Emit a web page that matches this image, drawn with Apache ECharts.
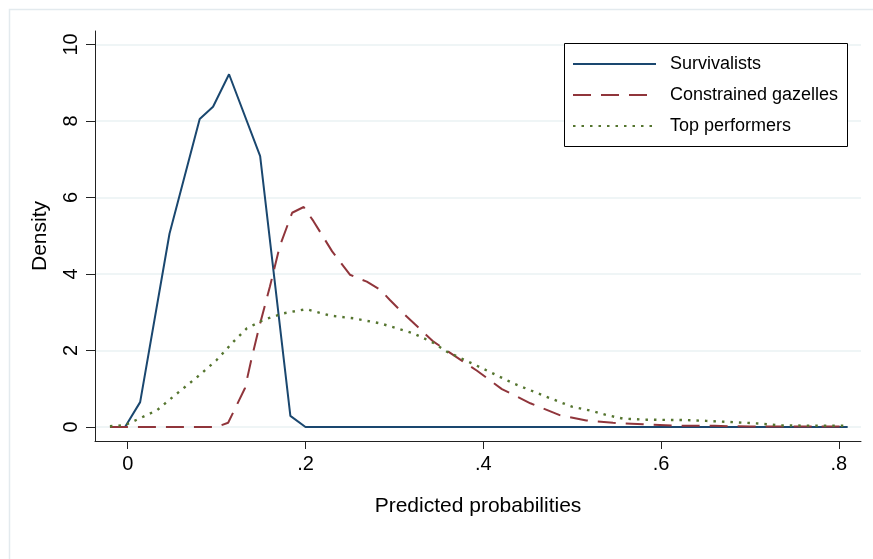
<!DOCTYPE html>
<html>
<head>
<meta charset="utf-8">
<script src="https://cdn.jsdelivr.net/npm/echarts@6/dist/echarts.min.js"></script>
<style>
  html, body { margin: 0; padding: 0; background: #fff; }
  #chart { width: 873px; height: 559px; }
</style>
</head>
<body>
<div id="chart"></div>
<script>
// series names
var seriesNames = ['Survivalists', 'Constrained gazelles', 'Top performers'];

// Survivalists density
var survX = [-0.003, 0.014, 0.047, 0.081, 0.096, 0.114, 0.149, 0.183, 0.2, 0.81];
var survY = [0, 0.65, 5.05, 8.05, 8.37, 9.22, 7.08, 0.29, 0, 0];

// Constrained gazelles density
var gazX = [-0.02, 0.1, 0.113, 0.132, 0.139, 0.148, 0.16, 0.171, 0.185, 0.198, 0.209, 0.23, 0.25, 0.261, 0.269, 0.284, 0.295, 0.306, 0.344, 0.393, 0.421, 0.453, 0.486, 0.516, 0.546, 0.58, 0.618, 0.66, 0.7, 0.81];
var gazY = [0, 0, 0.11, 1.02, 1.75, 2.62, 3.67, 4.72, 5.6, 5.75, 5.38, 4.59, 3.98, 3.87, 3.8, 3.59, 3.32, 3.06, 2.23, 1.47, 0.99, 0.62, 0.31, 0.17, 0.11, 0.07, 0.03, 0.03, 0.01, 0.01];

// Top performers density
var topX = [-0.02, -0.003, 0.014, 0.033, 0.051, 0.081, 0.1, 0.119, 0.134, 0.153, 0.175, 0.201, 0.228, 0.254, 0.284, 0.321, 0.344, 0.359, 0.393, 0.434, 0.471, 0.5, 0.524, 0.539, 0.557, 0.584, 0.629, 0.651, 0.678, 0.711, 0.734, 0.81];
var topY = [0.02, 0.05, 0.23, 0.44, 0.79, 1.36, 1.75, 2.23, 2.58, 2.8, 2.97, 3.08, 2.91, 2.84, 2.71, 2.45, 2.2, 1.97, 1.6, 1.14, 0.79, 0.53, 0.41, 0.31, 0.22, 0.19, 0.18, 0.16, 0.13, 0.09, 0.04, 0.03];

// tick labels
var xTicks = [0, 0.2, 0.4, 0.6, 0.8];
var yTicks = [0, 2, 4, 6, 8, 10];

function pairs(xs, ys) {
  return xs.map(function (x, i) { return [x, ys[i]]; });
}

var font = '"Liberation Sans", Arial, sans-serif';
var chart = echarts.init(document.getElementById('chart'));

var option = {
  backgroundColor: '#fff',
  animation: false,
  grid: { left: 95, right: 12, top: 31, bottom: 118 },
  graphic: [
    {
      type: 'rect',
      shape: { x: 9.5, y: 9.5, width: 900, height: 600 },
      style: { fill: null, stroke: '#e3eaee', lineWidth: 1.5 },
      silent: true
    },
    {
      type: 'rect',
      z: 10,
      shape: { x: 564.5, y: 43.5, width: 283, height: 103 },
      style: { fill: '#fff', stroke: '#000', lineWidth: 1 },
      silent: true
    }
  ],
  legend: {
    z: 20,
    orient: 'vertical',
    left: 572,
    top: 55,
    itemWidth: 83,
    itemHeight: 14,
    itemGap: 13,
    padding: 0,
    itemStyle: { opacity: 0 },
    textStyle: { fontFamily: font, fontSize: 18, color: '#000', padding: [0, 0, 0, 9] },
    data: seriesNames
  },
  xAxis: {
    type: 'value',
    min: -0.0368,
    max: 0.825,
    name: 'Predicted probabilities',
    nameLocation: 'middle',
    nameGap: 55,
    nameTextStyle: { fontFamily: font, fontSize: 21, color: '#000' },
    axisLine: { show: true, onZero: false, lineStyle: { color: '#222', width: 1 } },
    axisTick: { show: true, length: 8, customValues: xTicks, lineStyle: { color: '#222' } },
    axisLabel: {
      customValues: xTicks,
      margin: 13,
      fontFamily: font,
      fontSize: 20,
      color: '#000',
      formatter: function (v) { return v === 0 ? '0' : String(+v.toFixed(1)).replace(/^0/, ''); }
    },
    splitLine: { show: false }
  },
  yAxis: {
    type: 'value',
    min: -0.366,
    max: 10.35,
    name: 'Density',
    nameLocation: 'middle',
    nameGap: 44,
    nameTextStyle: { fontFamily: font, fontSize: 21, color: '#000' },
    axisLine: { show: true, onZero: false, lineStyle: { color: '#222', width: 1 } },
    axisTick: { show: true, length: 9, customValues: yTicks, lineStyle: { color: '#222' } },
    axisLabel: {
      customValues: yTicks,
      rotate: 90,
      margin: 14,
      fontFamily: font,
      fontSize: 20,
      color: '#000'
    },
    splitLine: { show: true, lineStyle: { color: '#eaf2f3', width: 1.5 } }
  },
  series: [
    {
      name: seriesNames[0],
      type: 'line',
      symbol: 'none',
      data: pairs(survX, survY),
      lineStyle: { color: '#1a476f', width: 2 },
      itemStyle: { color: '#1a476f' },
      z: 3
    },
    {
      name: seriesNames[1],
      type: 'line',
      symbol: 'none',
      data: pairs(gazX, gazY),
      lineStyle: { color: '#90353b', width: 2, type: [18, 10] },
      itemStyle: { color: '#90353b' },
      z: 4
    },
    {
      name: seriesNames[2],
      type: 'line',
      symbol: 'none',
      data: pairs(topX, topY),
      lineStyle: { color: '#55752f', width: 2.4, type: [2.5, 6] },
      itemStyle: { color: '#55752f' },
      z: 5
    }
  ]
};

chart.setOption(option);
</script>
</body>
</html>
